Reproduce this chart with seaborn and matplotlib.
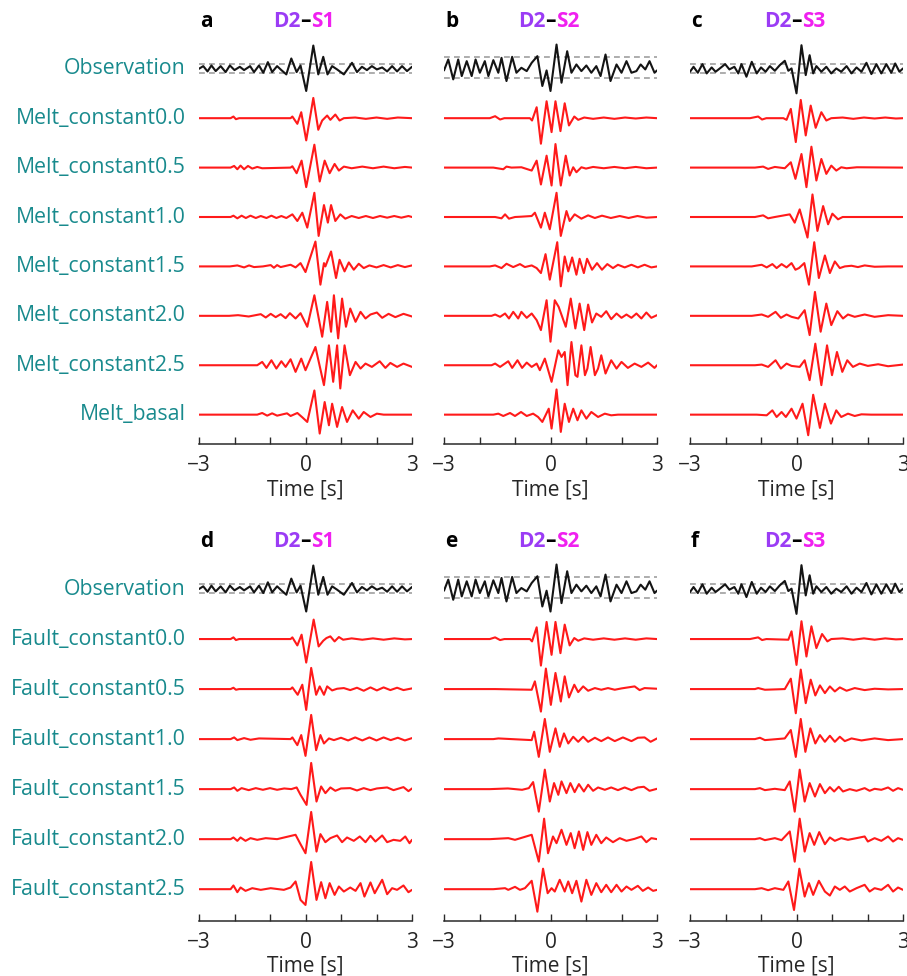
import matplotlib
matplotlib.use("Agg")
import numpy as np
import pandas as pd
import matplotlib.pyplot as plt
import seaborn as sns
from matplotlib.ticker import FixedLocator
from matplotlib.transforms import blended_transform_factory

# ---------------- data: (time [s], relative amplitude) pairs ----------------
# Observations (same records used in both halves of the figure)
OBS_S1 = [(-3.0, 0), (-2.88, 8), (-2.76, -8), (-2.65, 10), (-2.53, -7), (-2.39, 8), (-2.25, -10),
          (-2.13, 10), (-2.0, -4), (-1.85, 6), (-1.73, -4), (-1.56, 8), (-1.45, -10), (-1.31, 10),
          (-1.19, -12), (-1.06, 20), (-0.94, -10), (-0.8, 8), (-0.68, -4), (-0.54, -17), (-0.4, 31),
          (-0.25, -10), (-0.14, 10), (0.02, -67), (0.22, 70), (0.36, -17), (0.5, 36), (0.62, -17),
          (0.75, 8), (0.89, -2), (1.08, -17), (1.31, 18), (1.45, -10), (1.59, 6), (1.73, -4),
          (1.87, 8), (2.01, -2), (2.16, 4), (2.3, -8), (2.44, 8), (2.58, -8), (2.72, 8), (2.86, -7),
          (3.0, 6)]
OBS_S2 = [(-3.0, -5), (-2.88, 28), (-2.74, -32), (-2.6, 28), (-2.5, -22), (-2.36, 23), (-2.22, -22),
          (-2.11, 28), (-1.99, -12), (-1.85, 23), (-1.75, -22), (-1.61, 26), (-1.47, -12), (-1.38, 33),
          (-1.24, -37), (-1.08, 36), (-0.96, -12), (-0.82, 3), (-0.67, -7), (-0.53, 18), (-0.37, 38),
          (-0.23, -52), (-0.11, -5), (0.0, -67), (0.17, 73), (0.31, -42), (0.47, 53), (0.59, -12),
          (0.73, 13), (0.87, -7), (1.01, 10), (1.15, -12), (1.29, 8), (1.41, -22), (1.55, 43),
          (1.69, -37), (1.86, 13), (2.0, -12), (2.14, 23), (2.28, -12), (2.42, -7), (2.54, 13),
          (2.67, -2), (2.79, 23), (2.93, -12), (3.0, -5)]
OBS_S3 = [(-3.0, -9), (-2.9, 6), (-2.78, -12), (-2.65, 14), (-2.53, -14), (-2.39, 4), (-2.28, -9),
          (-2.16, 1), (-2.01, 14), (-1.89, -2), (-1.75, 6), (-1.64, -14), (-1.55, 14), (-1.41, -24),
          (-1.26, 21), (-1.12, -14), (-1.0, 4), (-0.87, -9), (-0.75, 8), (-0.61, -6), (-0.47, 11),
          (-0.33, 24), (-0.23, -6), (-0.14, 1), (0.0, -74), (0.14, 71), (0.26, -19), (0.37, 41),
          (0.47, -14), (0.56, 8), (0.7, -9), (0.84, 6), (0.98, -14), (1.12, 1), (1.26, -9), (1.41, 8),
          (1.55, -14), (1.69, 4), (1.83, -9), (1.97, 18), (2.11, -16), (2.25, 14), (2.39, -14),
          (2.53, 14), (2.67, -12), (2.78, 16), (2.9, -9), (3.0, 1)]
# observation uncertainty band (upper, lower)
BAND_S1 = (14, -12)
BAND_S2 = (35, -28)
BAND_S3 = (14, -12)

# ---- D2-S1, melt models ----
A_M00 = [(-3, 0), (-2.11, 0), (-2.03, 5), (-1.96, -3), (-1.87, 0), (-0.42, 0), (-0.37, 5), (-0.23, -17),
         (-0.12, 18), (0.02, -67), (0.22, 61), (0.36, -35), (0.47, -7), (0.61, 8), (0.7, -5), (0.84, 11),
         (0.96, -7), (1.08, 0), (1.4, 2), (1.7, -2), (2.0, 2), (2.3, -2), (2.6, 2), (3.0, 0)]
A_M05 = [(-3, 0), (-2.11, 0), (-2.01, 5), (-1.92, -5), (-1.83, 6), (-1.73, -5), (-1.62, 5), (-1.5, -3),
         (-1.36, 2), (-1.22, -2), (-0.42, 0), (-0.37, 4), (-0.25, -17), (-0.11, 21), (0.02, -59),
         (0.25, 69), (0.4, -42), (0.54, 21), (0.68, -17), (0.82, 11), (0.94, -9), (1.08, 3), (1.3, -2),
         (1.6, 3), (1.9, -2), (2.2, 3), (2.5, -2), (2.8, 2), (3.0, 0)]
A_M10 = [(-3, 0), (-2.11, 0), (-2.03, 4), (-1.92, -4), (-1.8, 4), (-1.68, -3), (-1.55, 4), (-1.4, -3),
         (-1.26, 3), (-1.1, -3), (-0.96, 4), (-0.82, -3), (-0.68, 3), (-0.54, -3), (-0.37, 8),
         (-0.23, -12), (-0.09, 13), (0.05, -32), (0.25, 73), (0.37, -57), (0.52, 36), (0.63, -17),
         (0.72, 36), (0.84, -12), (0.98, 8), (1.12, -5), (1.3, 3), (1.5, -3), (1.7, 3), (1.9, -3),
         (2.1, 3), (2.3, -2), (2.5, 3), (2.7, -2), (2.9, 3), (3.0, 0)]
A_M15 = [(-3, 0), (-2.13, 0), (-1.92, 3), (-1.73, -3), (-1.59, 3), (-1.45, -2), (-1.2, 0), (-0.98, 4),
         (-0.89, -4), (-0.8, 4), (-0.7, -2), (-0.42, 5), (-0.28, -3), (-0.14, 10), (0.0, -17),
         (0.28, 75), (0.42, -55), (0.52, 10), (0.56, 0), (0.72, 45), (0.86, -35), (0.96, 20),
         (1.1, -15), (1.22, 12), (1.36, -10), (1.5, 8), (1.64, -5), (1.8, 3), (2.0, -3), (2.2, 4),
         (2.4, -3), (2.6, 4), (2.8, -2), (3.0, 3)]
A_M20 = [(-3, 0), (-2.15, 0), (-1.9, 2), (-1.6, -2), (-1.26, 5), (-1.12, -5), (-0.98, 6), (-0.84, -4),
         (-0.7, 5), (-0.56, -7), (-0.44, 8), (-0.28, -8), (-0.14, 8), (0.05, -33), (0.25, 62),
         (0.47, -63), (0.61, 42), (0.72, -48), (0.8, 62), (0.92, -68), (1.03, 52), (1.14, -33),
         (1.26, 22), (1.41, -18), (1.55, 12), (1.69, -8), (1.83, 4), (2.01, 10), (2.16, -6),
         (2.34, 6), (2.53, -4), (2.76, 6), (3.0, -2)]
A_M25 = [(-3, 0), (-1.36, 0), (-1.22, 10), (-1.1, -8), (-0.96, 15), (-0.82, -10), (-0.68, 12),
         (-0.56, -5), (-0.42, 18), (-0.28, -20), (-0.12, 20), (0.0, -15), (0.28, 55), (0.52, -60),
         (0.66, 60), (0.78, -50), (0.89, 60), (0.98, -70), (1.1, 60), (1.25, -30), (1.41, 10),
         (1.55, -10), (1.69, 5), (1.87, -5), (2.09, 12), (2.25, -8), (2.39, 7), (2.58, -5),
         (2.76, 5), (3.0, -5)]
A_BAS = [(-3, 0), (-1.36, 0), (-1.22, 5), (-1.08, -3), (-0.94, 4), (-0.8, -3), (-0.52, 4), (-0.42, -4),
         (-0.23, 5), (-0.09, -8), (0.05, -22), (0.25, 73), (0.4, -57), (0.54, 38), (0.66, -32),
         (0.75, 33), (0.89, -37), (1.03, 23), (1.17, -22), (1.33, 13), (1.5, -12), (1.64, 8),
         (1.83, -7), (2.01, 3), (2.2, 0), (3.0, 0)]

# ---- D2-S2, melt models ----
B_M00 = [(-3, 0), (-1.71, 0), (-1.56, 6), (-1.42, -4), (-1.3, 0), (-0.58, 0), (-0.52, -7), (-0.39, 33),
         (-0.27, -77), (-0.11, 51), (0.03, -42), (0.14, 51), (0.28, -39), (0.4, 45), (0.52, -22),
         (0.67, 5), (0.78, -5), (0.95, 2), (1.2, -2), (1.5, 2), (1.8, -2), (2.1, 2), (2.4, -1),
         (2.7, 2), (3.0, 0)]
B_M05 = [(-3, 0), (-1.61, 0), (-1.33, -5), (-1.24, 3), (-1.1, 0), (-0.82, 1), (-0.53, -9), (-0.39, 21),
         (-0.27, -51), (-0.11, 36), (0.03, -54), (0.14, 71), (0.29, -54), (0.43, 36), (0.54, -24),
         (0.64, 1), (0.73, -14), (0.87, 1), (1.0, -3), (1.2, 2), (1.5, -2), (1.8, 2), (2.1, -2),
         (2.4, 2), (2.7, -2), (3.0, 0)]
B_M10 = [(-3, 0), (-1.56, 0), (-1.38, -4), (-1.28, 8), (-1.17, -5), (-1.0, 0), (-0.82, 1), (-0.53, 3),
         (-0.44, 13), (-0.27, -32), (-0.16, 13), (-0.02, -37), (0.17, 73), (0.29, -57), (0.45, 18),
         (0.54, -12), (0.68, 8), (0.87, -5), (1.06, 5), (1.25, -3), (1.45, 4), (1.7, -3), (1.95, 3),
         (2.2, -3), (2.45, 3), (2.7, -2), (3.0, 0)]
B_M15 = [(-3, 0), (-1.71, 0), (-1.56, 3), (-1.38, -5), (-1.24, 8), (-1.05, -2), (-0.86, 7), (-0.72, -2),
         (-0.53, 3), (-0.39, -5), (-0.27, -20), (-0.14, 37), (-0.02, -40), (0.19, 73), (0.29, -60),
         (0.4, 30), (0.5, -15), (0.61, 27), (0.73, -25), (0.82, 23), (0.94, -20), (1.03, 23),
         (1.17, -10), (1.31, 10), (1.45, -10), (1.6, 7), (1.76, -5), (1.9, 5), (2.09, -3), (2.28, 5),
         (2.46, -3), (2.65, 5), (2.84, -3), (3.0, 0)]
B_M20 = [(-3, 0), (-1.66, 0), (-1.56, 4), (-1.42, -3), (-1.28, 7), (-1.17, -8), (-1.05, 12), (-0.91, -8),
         (-0.82, 12), (-0.67, -6), (-0.53, 7), (-0.39, -13), (-0.27, -43), (-0.11, 47), (0.0, -78),
         (0.12, 47), (0.23, 27), (0.43, -33), (0.57, 52), (0.7, -38), (0.82, 37), (0.95, -43),
         (1.06, 34), (1.17, -20), (1.29, 7), (1.43, -3), (1.57, 14), (1.71, -10), (1.86, 7),
         (2.0, -6), (2.14, 4), (2.28, -6), (2.42, 7), (2.56, -8), (2.7, 10), (2.84, -6), (3.0, 2)]
B_M25 = [(-3, 0), (-1.66, 0), (-1.56, 5), (-1.42, -5), (-1.19, 12), (-1.08, -8), (-0.93, 15),
         (-0.8, -8), (-0.67, 8), (-0.53, -5), (-0.39, 5), (-0.3, -15), (-0.16, 20), (0.03, -50),
         (0.22, 45), (0.31, 25), (0.4, 40), (0.48, -60), (0.59, 70), (0.7, -30), (0.76, -35),
         (0.87, 60), (0.97, -30), (1.04, -10), (1.13, 55), (1.25, -30), (1.34, -10), (1.43, 30),
         (1.55, -25), (1.71, 15), (1.86, -10), (2.0, 10), (2.18, -8), (2.37, 5), (2.56, -5),
         (2.75, 8), (2.93, -8), (3.0, 0)]
B_BAS = [(-3, 0), (-1.61, 0), (-1.47, 3), (-1.33, -4), (-1.14, 5), (-1.0, -4), (-0.83, 8), (-0.67, -4),
         (-0.49, 3), (-0.35, -7), (-0.23, -22), (-0.05, 18), (0.03, -42), (0.17, 76), (0.29, -52),
         (0.4, 33), (0.52, -22), (0.64, 18), (0.76, -17), (0.87, 13), (1.01, -12), (1.15, 8),
         (1.34, -7), (1.53, 3), (1.71, -2), (1.9, 0), (3.0, 0)]

# ---- D2-S3, melt models ----
C_M00 = [(-3, 0), (-1.31, 0), (-1.08, 5), (-0.97, -4), (-0.85, 0), (-0.37, 0), (-0.28, -5), (-0.16, 28),
         (-0.02, -72), (0.12, 55), (0.26, -52), (0.4, 38), (0.54, -29), (0.7, 18), (0.84, -7),
         (0.98, 0), (1.3, 2), (1.6, -2), (1.9, 2), (2.2, -1), (2.5, 2), (2.8, -1), (3.0, 0)]
C_M05 = [(-3, 0), (-1.17, 0), (-0.94, 3), (-0.8, -4), (-0.61, 2), (-0.33, -2), (-0.16, 16), (-0.03, -34),
         (0.14, 41), (0.28, -59), (0.42, 63), (0.56, -39), (0.7, 26), (0.84, -19), (0.98, 6),
         (1.12, -9), (1.26, 1), (1.41, -2), (1.7, 1), (3.0, 0)]
C_M10 = [(-3, 0), (-1.17, 0), (-0.94, 5), (-0.8, -4), (-0.61, 0), (-0.19, 8), (-0.05, -17), (0.09, 23),
         (0.31, -62), (0.45, 68), (0.59, -42), (0.75, 33), (0.89, -22), (1.01, 10), (1.17, -7),
         (1.3, 0), (3.0, 0)]
C_M15 = [(-3, 0), (-1.26, 0), (-0.98, 5), (-0.84, -3), (-0.68, 7), (-0.56, -5), (-0.42, 7), (-0.28, -3),
         (-0.14, 10), (-0.03, -10), (0.07, -5), (0.22, 10), (0.35, -55), (0.5, 73), (0.63, -35),
         (0.8, 33), (0.94, -20), (1.08, 15), (1.22, -5), (1.36, 0), (1.55, 2), (1.73, -2), (1.92, 3),
         (2.2, -1), (2.58, 0), (3.0, 0)]
C_M20 = [(-3, 0), (-1.26, 0), (-0.98, 4), (-0.8, -3), (-0.59, 12), (-0.44, -6), (-0.28, 4), (-0.14, -3),
         (0.05, -8), (0.23, 17), (0.37, -58), (0.52, 72), (0.68, -48), (0.84, 37), (0.98, -28),
         (1.15, 14), (1.31, -8), (1.45, 4), (1.64, -3), (1.92, 4), (2.2, -3), (2.58, 2), (3.0, 0)]
C_M25 = [(-3, 0), (-1.17, 0), (-0.98, 2), (-0.8, -5), (-0.59, 15), (-0.44, -10), (-0.28, 5), (-0.14, -2),
         (0.09, -5), (0.23, 15), (0.37, -45), (0.53, 65), (0.7, -60), (0.86, 60), (1.0, -30),
         (1.14, 40), (1.29, -20), (1.43, 15), (1.59, -5), (1.78, 5), (2.01, -2), (2.3, 3), (2.58, -3),
         (3.0, 2)]
C_BAS = [(-3, 0), (-1.12, 0), (-0.84, -2), (-0.68, 13), (-0.56, -7), (-0.42, 8), (-0.3, -7), (-0.14, 18),
         (0.0, -12), (0.17, 33), (0.33, -62), (0.47, 60), (0.66, -40), (0.8, 33), (0.97, -27),
         (1.12, 13), (1.26, -7), (1.45, 3), (1.64, -4), (1.83, 1), (2.1, 0), (3.0, 0)]

# ---- D2-S1, fault models ----
D_F00 = [(-3, 0), (-2.11, 0), (-2.03, 5), (-1.96, -3), (-1.87, 0), (-0.42, 0), (-0.37, 5), (-0.23, -19),
         (-0.11, 13), (0.02, -70), (0.23, 58), (0.37, -22), (0.5, -5), (0.59, 3), (0.7, 8), (0.82, -7),
         (0.94, 6), (1.06, -2), (1.3, 2), (1.6, -2), (1.9, 2), (2.2, -2), (2.5, 2), (2.8, -1), (3.0, 0)]
D_F05 = [(-3, 0), (-2.11, 0), (-2.03, 4), (-1.96, -2), (-1.87, 0), (-0.42, 0), (-0.37, 5), (-0.22, -17),
         (-0.09, 13), (0.02, -62), (0.16, 63), (0.3, -17), (0.4, 8), (0.52, -17), (0.61, 8),
         (0.75, -4), (0.89, 1), (1.08, 3), (1.26, -3), (1.45, 4), (1.64, -5), (1.83, 5), (2.01, -4),
         (2.2, 5), (2.39, -3), (2.58, 4), (2.76, -3), (3.0, 2)]
D_F10 = [(-3, 0), (-2.11, 0), (-2.01, 5), (-1.92, -3), (-1.73, 3), (-1.55, -2), (-1.31, 2), (-0.42, 0),
         (-0.37, 5), (-0.23, -18), (-0.12, 12), (0.0, -50), (0.16, 72), (0.3, -33), (0.42, 12),
         (0.52, -13), (0.66, 2), (0.8, -3), (1.0, 4), (1.2, -4), (1.4, 5), (1.6, -4), (1.8, 5),
         (2.0, -4), (2.2, 5), (2.4, -3), (2.6, 4), (2.8, -4), (3.0, 3)]
D_F15 = [(-3, 0), (-2.11, 0), (-2.01, 5), (-1.92, -5), (-1.8, 3), (-1.6, -3), (-1.4, 3), (-1.2, -2),
         (-1.0, 3), (-0.8, -2), (-0.6, 2), (-0.4, 0), (-0.25, 5), (-0.14, -17), (0.03, -47), (0.16, 78),
         (0.31, -37), (0.44, 8), (0.56, -12), (0.7, 5), (0.84, -5), (1.0, 2), (1.26, 3), (1.45, -4),
         (1.64, 3), (1.83, -3), (2.01, 2), (2.3, 5), (2.48, -3), (2.76, 6), (2.9, -6), (3.0, 2)]
D_F20 = [(-3, 0), (-2.11, 0), (-2.03, 5), (-1.92, -5), (-1.83, 5), (-1.69, -5), (-1.55, 3), (-1.36, -2),
         (-1.12, 3), (-0.8, 0), (-0.28, 13), (-0.14, -15), (0.0, -42), (0.16, 81), (0.31, -37),
         (0.42, 15), (0.56, -9), (0.7, 3), (0.89, 11), (1.03, -9), (1.17, 5), (1.36, -5), (1.53, 8),
         (1.69, -9), (1.83, 10), (1.97, -7), (2.16, 11), (2.3, -9), (2.48, -2), (2.67, -5), (2.81, 8),
         (2.93, -12), (3.0, -2)]
D_F25 = [(-3, 0), (-2.11, 0), (-2.03, 11), (-1.92, -9), (-1.83, 5), (-1.69, -5), (-1.5, 3), (-1.26, -2),
         (-0.98, 3), (-0.61, -2), (-0.42, 5), (-0.28, 23), (-0.14, -32), (0.0, -47), (0.16, 81),
         (0.31, -32), (0.44, 21), (0.56, -27), (0.68, 18), (0.82, -17), (0.94, 8), (1.08, -7),
         (1.26, 5), (1.41, -5), (1.55, 18), (1.66, -22), (1.83, 20), (1.95, -12), (2.16, 28),
         (2.3, -15), (2.44, 3), (2.58, -2), (2.76, 11), (2.9, -9), (3.0, -2)]

# ---- D2-S2, fault models ----
E_F00 = [(-3, 0), (-1.71, 0), (-1.56, 5), (-1.42, -3), (-1.3, 0), (-0.58, 0), (-0.52, -7), (-0.39, 35),
         (-0.27, -79), (-0.11, 51), (0.03, -47), (0.14, 51), (0.28, -42), (0.4, 43), (0.54, -19),
         (0.67, 3), (0.78, -5), (0.95, 2), (1.2, -2), (1.5, 2), (1.8, -2), (2.1, 2), (2.4, -2),
         (2.7, 2), (3.0, 0)]
E_F05 = [(-3, 0), (-1.56, 0), (-0.53, -2), (-0.44, 23), (-0.27, -67), (-0.13, 61), (0.01, -47),
         (0.14, 48), (0.29, -37), (0.4, 38), (0.52, -25), (0.67, 13), (0.78, -9), (0.92, 8),
         (1.06, -5), (1.25, 3), (1.43, -2), (1.62, 3), (1.81, -2), (2.0, 2), (2.37, 8), (2.51, -3),
         (2.65, 3), (3.0, 1)]
E_F10 = [(-3, 0), (-1.61, 0), (-1.47, 2), (-0.53, -3), (-0.46, 22), (-0.33, -53), (-0.16, 60),
         (-0.02, -38), (0.14, 32), (0.26, -23), (0.38, 17), (0.5, -13), (0.64, 7), (0.78, -8),
         (0.92, 7), (1.06, -8), (1.25, 4), (1.43, -6), (1.62, 5), (1.81, -6), (2.04, 5), (2.28, -6),
         (2.46, 4), (2.65, 5), (2.82, -8), (3.0, 2)]
E_F15 = [(-3, 0), (-1.71, 0), (-1.2, 2), (-0.8, -2), (-0.61, 3), (-0.49, 21), (-0.33, -67), (-0.16, 58),
         (-0.02, -37), (0.1, 18), (0.22, -17), (0.31, 23), (0.45, -12), (0.56, 18), (0.68, -9),
         (0.8, 15), (0.94, -7), (1.06, 13), (1.2, -5), (1.34, 5), (1.53, -2), (1.71, 5), (1.9, -3),
         (2.09, 5), (2.28, -3), (2.46, 5), (2.63, 7), (2.79, -5), (3.0, 1)]
E_F20 = [(-3, 0), (-1.71, 0), (-1.19, 3), (-1.0, -2), (-0.53, 13), (-0.33, -67), (-0.18, 61),
         (-0.07, -42), (0.07, 8), (0.17, -12), (0.31, 28), (0.45, -17), (0.57, 18), (0.68, -27),
         (0.8, 23), (0.92, -32), (1.04, 21), (1.15, -17), (1.29, 13), (1.43, -12), (1.57, 5),
         (1.76, -9), (1.95, 3), (2.14, -5), (2.37, 1), (2.56, 8), (2.7, -9), (2.84, 3), (3.0, 0)]
E_F25 = [(-3, 0), (-1.61, 0), (-1.28, 3), (-1.19, -2), (-1.0, 7), (-0.86, -2), (-0.72, 3), (-0.53, 25),
         (-0.37, -67), (-0.21, 61), (-0.08, -12), (0.03, 3), (0.12, -7), (0.26, 28), (0.4, -7),
         (0.5, 23), (0.61, -12), (0.73, 25), (0.87, -37), (1.01, 28), (1.15, -17), (1.29, 18),
         (1.43, -9), (1.57, 13), (1.71, -9), (1.86, 13), (2.0, -7), (2.14, 8), (2.28, -2), (2.46, 10),
         (2.6, -5), (2.75, 5), (2.89, -5), (3.0, -2)]

# ---- D2-S3, fault models ----
F_F00 = [(-3, 0), (-1.31, 0), (-1.08, 5), (-0.97, -3), (-0.85, 0), (-0.23, -2), (-0.14, 23), (0.0, -77),
         (0.14, 53), (0.28, -52), (0.42, 38), (0.56, -27), (0.72, 15), (0.87, -7), (0.98, 0), (1.3, 2),
         (1.6, -2), (1.9, 2), (2.2, -2), (2.5, 2), (2.8, -1), (3.0, 0)]
F_F05 = [(-3, 0), (-1.17, 0), (-1.08, 3), (-0.89, -2), (-0.33, 0), (-0.16, 31), (-0.02, -72), (0.12, 58),
         (0.26, -42), (0.4, 28), (0.53, -19), (0.66, 11), (0.8, -12), (0.94, 8), (1.08, -7), (1.22, 5),
         (1.41, -5), (1.64, 3), (1.92, -3), (2.2, 1), (2.58, -1), (3.0, 0)]
F_F10 = [(-3, 0), (-1.17, 0), (-1.03, 4), (-0.89, -3), (-0.33, 2), (-0.16, 27), (-0.02, -53), (0.12, 60),
         (0.25, -38), (0.39, 32), (0.53, -13), (0.66, 12), (0.8, -8), (0.94, 10), (1.08, -8),
         (1.22, 7), (1.36, -6), (1.55, 2), (1.83, -4), (2.2, 2), (2.58, -3), (3.0, 0)]
F_F15 = [(-3, 0), (-1.17, 0), (-1.03, 3), (-0.89, -3), (-0.61, 1), (-0.33, -3), (-0.19, 23), (-0.05, -67),
         (0.09, 58), (0.23, -37), (0.37, 18), (0.52, -22), (0.66, 15), (0.8, -12), (0.94, 6),
         (1.06, -7), (1.19, 7), (1.31, -7), (1.5, 0), (1.69, -5), (1.92, 3), (2.06, -5), (2.2, 1),
         (2.39, -2), (2.58, 5), (2.72, -5), (2.86, 3), (3.0, -2)]
F_F20 = [(-3, 0), (-1.17, 0), (-1.03, 3), (-0.89, -3), (-0.61, 3), (-0.42, -3), (-0.19, 23), (-0.05, -67),
         (0.09, 61), (0.23, -37), (0.37, 18), (0.5, -17), (0.64, 21), (0.8, -15), (0.94, 5),
         (1.08, -5), (1.26, 3), (1.45, -2), (1.69, 3), (1.92, 8), (2.01, -7), (2.2, 3), (2.39, -5),
         (2.58, 8), (2.72, -7), (2.86, 3), (3.0, -2)]
F_F25 = [(-3, 0), (-1.17, 0), (-0.98, 3), (-0.8, -3), (-0.61, 3), (-0.37, -2), (-0.23, 23), (-0.07, -62),
         (0.08, 61), (0.23, -22), (0.35, 18), (0.47, -17), (0.63, 25), (0.8, -7), (0.94, -19),
         (1.08, 8), (1.22, -2), (1.36, 8), (1.5, -7), (1.69, 3), (1.92, 13), (2.06, -7), (2.2, 3),
         (2.39, -2), (2.58, 13), (2.72, -7), (2.86, 5), (3.0, -2)]

TOP_LABELS = ["Observation", "Melt_constant0.0", "Melt_constant0.5", "Melt_constant1.0",
              "Melt_constant1.5", "Melt_constant2.0", "Melt_constant2.5", "Melt_basal"]
BOT_LABELS = ["Observation", "Fault_constant0.0", "Fault_constant0.5", "Fault_constant1.0",
              "Fault_constant1.5", "Fault_constant2.0", "Fault_constant2.5"]
PANEL_LETTERS = ["a", "b", "c", "d", "e", "f"]
SOURCE = "D2"
STATIONS = ["S1", "S2", "S3"]
X_TICKS = [-3, 0, 3]
X_MINOR = [-2, -1, 1, 2]

PANELS = [
    [OBS_S1, A_M00, A_M05, A_M10, A_M15, A_M20, A_M25, A_BAS],
    [OBS_S2, B_M00, B_M05, B_M10, B_M15, B_M20, B_M25, B_BAS],
    [OBS_S3, C_M00, C_M05, C_M10, C_M15, C_M20, C_M25, C_BAS],
    [OBS_S1, D_F00, D_F05, D_F10, D_F15, D_F20, D_F25],
    [OBS_S2, E_F00, E_F05, E_F10, E_F15, E_F20, E_F25],
    [OBS_S3, F_F00, F_F05, F_F10, F_F15, F_F20, F_F25],
]
BANDS = [BAND_S1, BAND_S2, BAND_S3, BAND_S1, BAND_S2, BAND_S3]

# ---------------- styling ----------------
sns.set_style("white")
plt.rcParams['font.family'] = ['Open Sans', 'DejaVu Sans']
plt.rcParams['axes.unicode_minus'] = True

TEAL = "#188a8d"
PURPLE = "#9b3cf5"
MAGENTA = "#f020f0"
RED = "#ff1a1a"
AMP = 1.0 / 149.0
FS = 15.0
FS_LAB = 15.3

W, H = 907, 976
fig = plt.figure(figsize=(W / 100, H / 100), dpi=100)

col_left = [199, 444, 690]
ax_w = 213
# (top px, bottom px, ylim bottom)
rows_geom = [(24.3, 444.3, -7.6), (544.0, 920.7, -6.63)]


def to_frame(traces):
    recs = []
    for i, tr in enumerate(traces):
        for t, v in tr:
            recs.append((i, t, -i + v * AMP))
    return pd.DataFrame(recs, columns=["row", "t", "y"])


for p, traces in enumerate(PANELS):
    r, c = divmod(p, 3)
    top, bot, ylo = rows_geom[r]
    ax = fig.add_axes([col_left[c] / W, 1 - bot / H, ax_w / W, (bot - top) / H])
    df = to_frame(traces)

    up, lo = BANDS[p]
    for b in (up, lo):
        ax.plot([-3, 3], [b * AMP, b * AMP], color="#a0a0a0", lw=1.2,
                ls=(0, (3.5, 2.5)), zorder=1)

    sns.lineplot(data=df[df.row == 0], x="t", y="y", color="#141414", lw=1.5,
                 estimator=None, sort=False, legend=False, ax=ax, zorder=3,
                 solid_joinstyle="round", solid_capstyle="round")
    sns.lineplot(data=df[df.row > 0], x="t", y="y", units="row", color=RED, lw=1.5,
                 estimator=None, sort=False, legend=False, ax=ax, zorder=3,
                 solid_joinstyle="round", solid_capstyle="round")

    ax.set_xlim(-3, 3)
    ax.set_ylim(ylo, 0.9)
    for s in ["top", "left", "right"]:
        ax.spines[s].set_visible(False)
    ax.spines["bottom"].set_color("#2a2a2a")
    ax.spines["bottom"].set_linewidth(1.1)
    ax.set_yticks([])
    ax.xaxis.set_major_locator(FixedLocator(X_TICKS))
    ax.xaxis.set_minor_locator(FixedLocator(X_MINOR))
    ax.set_xticklabels([f"{v:d}" if v >= 0 else f"\u2212{abs(v):d}" for v in X_TICKS])
    ax.tick_params(axis="x", which="both", direction="in", length=5, width=1.0,
                   color="#2a2a2a", labelsize=FS, pad=8, bottom=True)
    ax.set_xlabel("Time [s]", fontsize=FS, labelpad=2)
    ax.set_ylabel("")

    tr = blended_transform_factory(ax.transAxes, ax.transData)
    # panel letter
    ax.text(0.005, 0.95, PANEL_LETTERS[p], transform=tr, fontsize=FS, fontweight="bold",
            ha="left", va="center", color="black")
    # coloured title  D2–Sx
    dash = ax.text(0.5, 0.95, "\u2013", transform=tr, fontsize=FS, fontweight="bold",
                   ha="center", va="center", color="black")
    ax.annotate(SOURCE, xy=(0, 0), xycoords=dash, fontsize=FS, fontweight="bold",
                ha="right", va="bottom", color=PURPLE)
    ax.annotate(STATIONS[c], xy=(1, 0), xycoords=dash, fontsize=FS, fontweight="bold",
                ha="left", va="bottom", color=MAGENTA)

    if c == 0:
        labels = TOP_LABELS if r == 0 else BOT_LABELS
        for i, lab in enumerate(labels):
            ax.text(-0.062, -i, lab, transform=tr, fontsize=FS_LAB, ha="right", va="center",
                    color=TEAL)

fig.savefig("out.png", dpi=100)
